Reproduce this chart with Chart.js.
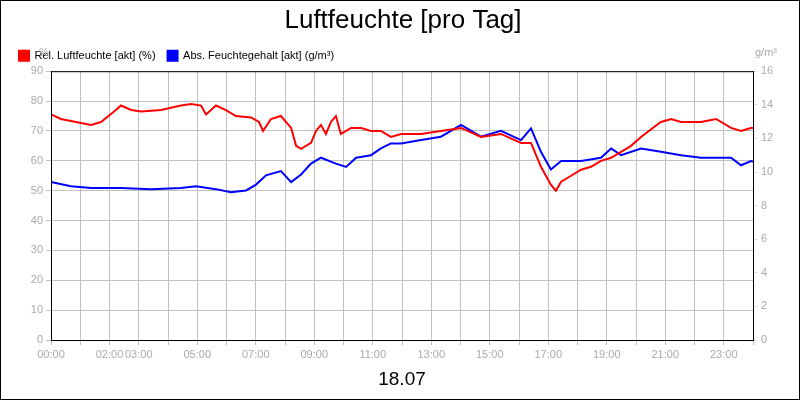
<!DOCTYPE html>
<html><head><meta charset="utf-8">
<script src="https://cdn.jsdelivr.net/npm/chart.js@4"></script>
<style>body{margin:0;background:#fff}#w{width:798px;height:398px;border:1px solid #000}</style>
</head><body><div id="w"><canvas id="c" width="798" height="398"></canvas></div>
<script>
var relHours = [0,.34,.85,1.37,1.71,2.22,2.39,2.74,3.08,3.76,4.44,4.79,5.13,5.3,5.64,5.98,6.32,6.84,7.11,7.25,7.52,7.86,8.21,8.38,8.55,8.89,9.06,9.23,9.4,9.57,9.74,9.91,10.26,10.6,10.94,11.28,11.62,11.97,12.65,13.33,14.02,14.7,15.38,16.07,16.41,16.75,17.09,17.26,17.44,17.78,18.12,18.46,18.8,19.15,19.49,19.83,20.17,20.85,21.2,21.54,22.22,22.74,23.25,23.59,23.93,24];
var relValues = [75.5,74,73,72,73,77,78.5,77,76.5,77,78.5,79,78.5,75.5,78.5,77,75,74.5,73,70,74,75,71,65,64,66,70,72,69,73,75,69,71,71,70,70,68,69,69,70,71,68,69,66,66,58,52,50,53,55,57,58,60,61,63,65,68,73,74,73,73,74,71,70,71,71];
var absHours = [0,.68,1.37,2.39,3.42,4.44,4.96,5.64,6.15,6.67,7.01,7.35,7.86,8.21,8.55,8.89,9.23,9.74,10.09,10.43,10.94,11.28,11.62,11.97,12.65,13.33,14.02,14.7,15.38,16.07,16.41,16.75,17.09,17.44,18.12,18.8,19.15,19.49,20.17,20.85,21.54,22.22,23.25,23.59,23.93,24];
var absValues = [9.4,9.15,9.05,9.05,8.98,9.05,9.15,8.98,8.8,8.9,9.25,9.8,10.05,9.4,9.85,10.5,10.85,10.5,10.3,10.85,11.0,11.4,11.7,11.7,11.9,12.1,12.8,12.1,12.45,11.9,12.6,11.2,10.15,10.65,10.65,10.85,11.4,11.0,11.4,11.2,11.0,10.85,10.85,10.4,10.65,10.6];
var tickHours = [0,2,3,5,7,9,11,13,15,17,19,21,23];

function pts(h, v) { return h.map(function (x, i) { return {x: x, y: v[i]}; }); }
function pad(n) { return (n < 10 ? '0' : '') + n + ':00'; }

var unitLabels = {
    id: 'units',
    afterDraw: function (chart) {
        var c = chart.ctx, a = chart.chartArea;
        c.save();
        c.font = '11px Arial, "Liberation Sans"';
        c.fillStyle = '#aaa';
        c.textAlign = 'left';
        c.fillText('%', 38, 52);
        c.textAlign = 'right';
        c.fillText('g/m³', 776, 52);
        c.strokeStyle = '#000';
        c.lineWidth = 1;
        c.strokeRect(a.left + .5, a.top + .5, a.right - a.left, a.bottom - a.top);
        c.restore();
    }
};

new Chart(document.getElementById('c'), {
    type: 'line',
    data: {
        datasets: [{
            label: 'Rel. Luftfeuchte [akt] (%)',
            data: pts(relHours, relValues),
            borderColor: '#ff0000', backgroundColor: '#ff0000',
            borderWidth: 2, pointRadius: 0, yAxisID: 'y'
        }, {
            label: 'Abs. Feuchtegehalt [akt] (g/m³)',
            data: pts(absHours, absValues),
            borderColor: '#0000ff', backgroundColor: '#0000ff',
            borderWidth: 2, pointRadius: 0, yAxisID: 'y2'
        }]
    },
    options: {
        responsive: false, animation: false,
        layout: {padding: {top: 0, right: 0, left: 6, bottom: 4}},
        plugins: {
            title: {display: true, text: 'Luftfeuchte [pro Tag]', color: '#000',
                font: {size: 26, family: 'Arial, "Liberation Sans"', weight: 'normal'}, padding: {top: 4, bottom: 2}},
            legend: {align: 'start', labels: {boxWidth: 10, boxHeight: 10, color: '#000', padding: 12,
                font: {size: 11, family: 'Arial, "Liberation Sans"'}}},
            tooltip: {enabled: false}
        },
        scales: {
            x: {
                type: 'linear', min: 0, max: 24,
                ticks: {stepSize: 1, autoSkip: false, maxRotation: 0, color: '#aaa',
                    font: {size: 11, family: 'Arial, "Liberation Sans"'},
                    callback: function (v) { return tickHours.indexOf(v) >= 0 ? pad(v) : ''; }},
                grid: {color: '#c0c0c0', tickLength: 5},
                border: {color: '#000'},
                title: {display: true, text: '18.07', color: '#000', font: {size: 19, family: 'Arial, "Liberation Sans"'}, padding: {top: 4}}
            },
            y: {
                position: 'left', min: 0, max: 90,
                ticks: {stepSize: 10, color: '#aaa', font: {size: 11, family: 'Arial, "Liberation Sans"'}},
                grid: {color: '#c0c0c0', tickLength: 5},
                border: {color: '#000'},
                afterFit: function (s) { s.width = 44; }
            },
            y2: {
                position: 'right', min: 0, max: 16,
                ticks: {stepSize: 2, color: '#aaa', font: {size: 11, family: 'Arial, "Liberation Sans"'}},
                grid: {drawOnChartArea: false, tickLength: 5},
                border: {color: '#000'},
                afterFit: function (s) { s.width = 46; }
            }
        }
    },
    plugins: [unitLabels]
});
</script></body></html>
